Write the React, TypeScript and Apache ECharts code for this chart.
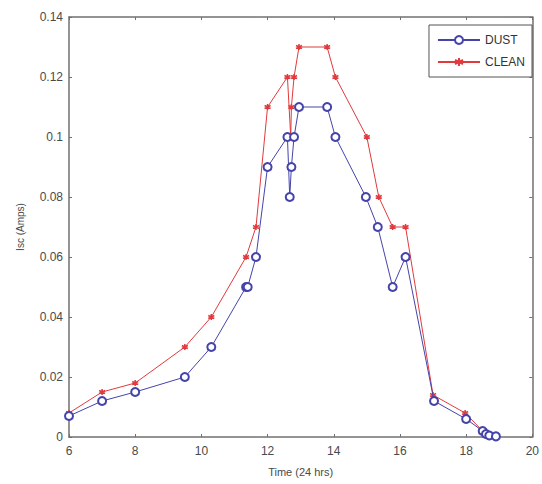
import React, { useEffect, useRef } from "react";
import * as echarts from "echarts";

const xTicks = [6, 8, 10, 12, 14, 16, 18, 20];

const dustX = [6, 7, 8, 9.5, 10.3, 11.35, 11.4, 11.65, 12.0, 12.6, 12.67, 12.72, 12.8, 12.95, 13.8, 14.05, 14.97, 15.33, 15.78, 16.17, 17.03, 18.0, 18.5, 18.6, 18.7, 18.9];
const dustY = [0.007, 0.012, 0.015, 0.02, 0.03, 0.05, 0.05, 0.06, 0.09, 0.1, 0.08, 0.09, 0.1, 0.11, 0.11, 0.1, 0.08, 0.07, 0.05, 0.06, 0.012, 0.006, 0.002, 0.001, 0.0005, 0.0002];

const cleanX = [6, 7, 8, 9.5, 10.3, 11.35, 11.65, 12.0, 12.6, 12.7, 12.72, 12.8, 12.95, 13.8, 14.05, 15.0, 15.36, 15.78, 16.17, 17.0, 17.97, 18.5, 18.6, 18.7, 18.9];
const cleanY = [0.008, 0.015, 0.018, 0.03, 0.04, 0.06, 0.07, 0.11, 0.12, 0.1, 0.11, 0.12, 0.13, 0.13, 0.12, 0.1, 0.08, 0.07, 0.07, 0.014, 0.008, 0.002, 0.001, 0.0005, 0.0002];

const seriesNames = ["DUST", "CLEAN"];

const BLUE = "#4444aa";
const RED = "#e03a3e";
const AXIS = "#707070";
const TXT = "#4a4a4a";
const FONT = "Liberation Sans, Arial, sans-serif";

const star = "path://M5 0 L5 10 M0.67 2.5 L9.33 7.5 M0.67 7.5 L9.33 2.5";

export default function App() {
  const ref = useRef<HTMLDivElement>(null);
  useEffect(() => {
    if (!ref.current) return;
    const chart = echarts.init(ref.current, null, { renderer: "svg" });
    const dust = dustX.map((x, i) => [x, dustY[i]]);
    const clean = cleanX.map((x, i) => [x, cleanY[i]]);
    const fmtY = (v: number) => String(parseFloat(v.toFixed(3)));
    const common = {
      axisLine: { show: true, onZero: false, lineStyle: { color: AXIS, width: 1.5 } },
      axisTick: { show: true, inside: true, length: 3, lineStyle: { color: AXIS } },
      splitLine: { show: false },
    };
    chart.setOption({
      animation: false,
      backgroundColor: "#ffffff",
      grid: { left: 69, right: 5, top: 17, bottom: 47 },
      legend: {
        data: seriesNames,
        orient: "vertical",
        top: 25,
        right: 10,
        backgroundColor: "#ffffff",
        borderColor: "#555555",
        borderWidth: 1,
        borderRadius: 0,
        padding: [9, 7, 9, 8],
        itemGap: 10,
        itemWidth: 42,
        itemHeight: 10,
        textStyle: { color: "#333", fontFamily: FONT, fontSize: 12 },
      },
      xAxis: [
        {
          type: "value",
          min: 6,
          max: 20,
          interval: 2,
          position: "bottom",
          ...common,
          axisLabel: { color: TXT, fontFamily: FONT, fontSize: 12, margin: 8 },
          name: "Time (24 hrs)",
          nameLocation: "middle",
          nameGap: 29,
          nameTextStyle: { color: TXT, fontFamily: FONT, fontSize: 11 },
        },
        {
          type: "value",
          min: 6,
          max: 20,
          interval: 2,
          position: "top",
          ...common,
          axisLabel: { show: false },
        },
      ],
      yAxis: [
        {
          type: "value",
          min: 0,
          max: 0.14,
          interval: 0.02,
          position: "left",
          ...common,
          axisLabel: { color: TXT, fontFamily: FONT, fontSize: 12, margin: 6, formatter: fmtY },
          name: "Isc (Amps)",
          nameLocation: "middle",
          nameGap: 44,
          nameTextStyle: { color: TXT, fontFamily: FONT, fontSize: 10 },
        },
        {
          type: "value",
          min: 0,
          max: 0.14,
          interval: 0.02,
          position: "right",
          ...common,
          axisLabel: { show: false },
        },
      ],
      series: [
        {
          name: seriesNames[0],
          type: "line",
          data: dust,
          symbol: "emptyCircle",
          symbolSize: 8,
          lineStyle: { color: BLUE, width: 1 },
          itemStyle: { color: BLUE, borderColor: BLUE, borderWidth: 1 },
          z: 3,
        },
        {
          name: seriesNames[1],
          type: "line",
          data: clean,
          symbol: star,
          symbolSize: 6,
          lineStyle: { color: RED, width: 1 },
          itemStyle: { color: RED, borderColor: RED, borderWidth: 1.5 },
          z: 2,
        },
      ],
    });
    return () => chart.dispose();
  }, []);
  return (
    <div
      ref={ref}
      style={{ position: "fixed", left: 0, top: 0, width: 542, height: 484, background: "#fff" }}
    />
  );
}
